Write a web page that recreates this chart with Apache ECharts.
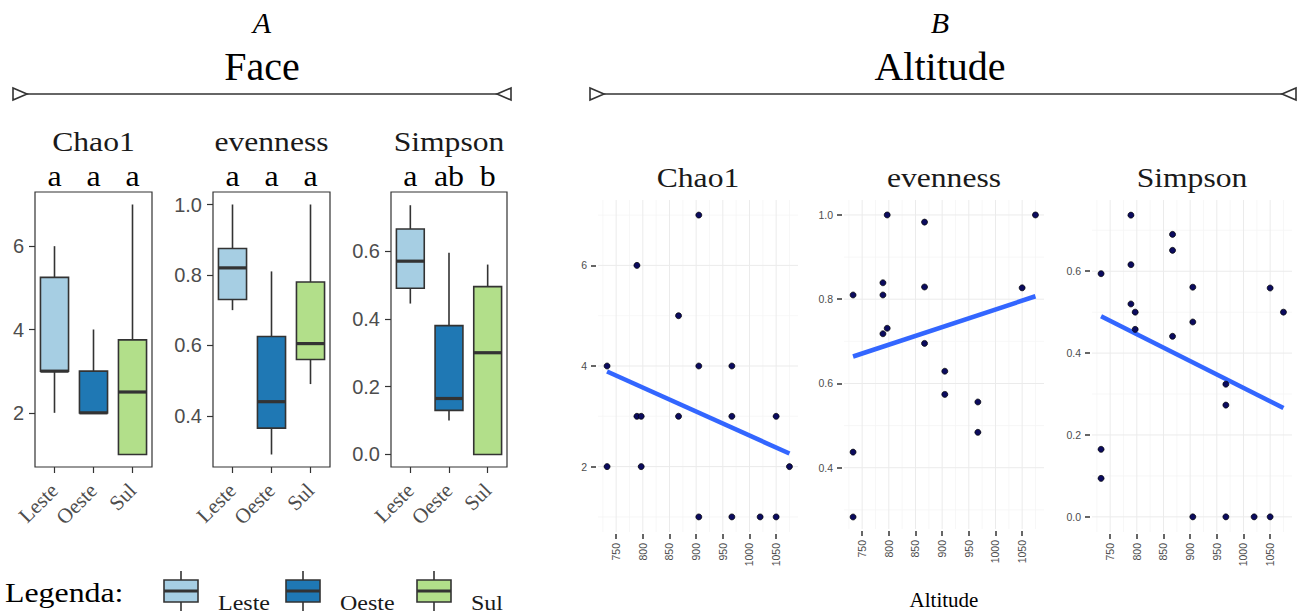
<!DOCTYPE html>
<html><head><meta charset="utf-8">
<script src="https://cdn.jsdelivr.net/npm/echarts@6/dist/echarts.min.js"></script>
<style>html,body{margin:0;padding:0;background:#fff}#c{width:1298px;height:615px}</style>
</head><body><div id="c"></div>
<script>
// ---------- data ----------
const groups = ['Leste', 'Oeste', 'Sul'];
const groupColors = ['#a6cee3', '#1f78b4', '#b2df8a'];
// boxplot stats per group: [min, q1, median, q3, max]
const chao1Box = [[2, 3, 3, 5.25, 6], [2, 2, 2, 3, 4], [1, 1, 2.5, 3.75, 7]];
const evenBox = [[0.70, 0.73, 0.82, 0.875, 1.0], [0.29, 0.365, 0.44, 0.625, 0.81], [0.49, 0.56, 0.605, 0.78, 1.0]];
const simpBox = [[0.445, 0.49, 0.57, 0.665, 0.735], [0.10, 0.13, 0.165, 0.38, 0.595], [0, 0, 0.30, 0.495, 0.56]];
const chao1Letters = ['a', 'a', 'a'];
const evenLetters = ['a', 'a', 'a'];
const simpLetters = ['a', 'ab', 'b'];
const metricNames = ['Chao1', 'evenness', 'Simpson'];
// tick labels
const chao1Ticks = [2, 4, 6];
const evenTicks = [0.4, 0.6, 0.8, 1.0];
const simpTicks = [0.0, 0.2, 0.4, 0.6];
const chao1Minor = [1, 3, 5, 7];
const evenMinor = [0.3, 0.5, 0.7, 0.9];
const simpMinor = [0.1, 0.3, 0.5, 0.7];
const altTicks = [750, 800, 850, 900, 950, 1000, 1050];
const altMinor = [725, 775, 825, 875, 925, 975, 1025, 1075];
// scatter points [altitude, value]
const chao1Pts = [[733, 4], [733, 2], [789, 6], [789, 3], [797, 3], [797, 2], [867, 5], [867, 3], [905, 7], [905, 4], [905, 1], [967, 4], [967, 3], [967, 1], [1020, 1], [1050, 3], [1050, 1], [1075, 2]];
const evenPts = [[733, 0.81], [733, 0.437], [733, 0.283], [789, 0.839], [789, 0.81], [789, 0.718], [797, 1.0], [797, 0.731], [867, 0.983], [867, 0.829], [867, 0.695], [905, 0.629], [905, 0.574], [967, 0.556], [967, 0.484], [1050, 0.827], [1075, 1.0]];
const simpPts = [[733, 0.594], [733, 0.165], [733, 0.094], [789, 0.737], [789, 0.616], [789, 0.52], [797, 0.50], [797, 0.458], [867, 0.69], [867, 0.651], [867, 0.441], [905, 0.561], [905, 0.476], [905, 0], [967, 0.324], [967, 0.273], [967, 0], [1020, 0], [1050, 0.559], [1050, 0], [1075, 0.50]];
// linear fit end points
const chao1Fit = [[733, 3.89], [1075, 2.26]];
const evenFit = [[733, 0.664], [1075, 0.807]];
const simpFit = [[733, 0.49], [1075, 0.266]];
// axis ranges
const chao1Range = [0.7, 7.3];
const evenRange = [0.2545, 1.0355];
const simpRange = [-0.037, 0.774];
const altRange = [716, 1091];

// ---------- styling ----------
const SERIF = 'Liberation Serif, Times New Roman, serif';
const SANS = 'Liberation Sans, Arial, sans-serif';
const gridsA = [{left: 35, top: 192, width: 117, height: 275}, {left: 213, top: 192, width: 117, height: 275}, {left: 391, top: 192, width: 116, height: 275}];
const gridsB = [{left: 598, top: 200, width: 200, height: 332}, {left: 844, top: 200, width: 200, height: 332}, {left: 1092, top: 200, width: 200, height: 332}];

const boxData = [chao1Box, evenBox, simpBox];
const letterData = [chao1Letters, evenLetters, simpLetters];
const tickData = [chao1Ticks, evenTicks, simpTicks];
const minorData = [chao1Minor, evenMinor, simpMinor];
const rangeData = [chao1Range, evenRange, simpRange];
const ptsData = [chao1Pts, evenPts, simpPts];
const fitData = [chao1Fit, evenFit, simpFit];
const fmt = [v => String(v), v => v.toFixed(1), v => v.toFixed(1)];

const grid = [], xAxis = [], yAxis = [], series = [], graphic = [];

for (let k = 0; k < 3; k++) {
  grid.push(Object.assign({show: true, borderColor: '#333', borderWidth: 1.2, backgroundColor: '#fff'}, gridsA[k]));
  xAxis.push({
    type: 'category', gridIndex: k, data: groups, boundaryGap: true, position: 'bottom',
    axisLine: {show: false, onZero: false},
    axisTick: {show: true, alignWithLabel: true, length: 6, lineStyle: {color: '#333', width: 1.2}},
    axisLabel: {rotate: 45, fontFamily: SERIF, fontSize: 21, color: '#4d4d4d', margin: 20},
    splitLine: {show: false}
  });
  yAxis.push({
    type: 'value', gridIndex: k, min: rangeData[k][0], max: rangeData[k][1],
    axisLine: {show: false, onZero: false},
    axisTick: {show: true, customValues: tickData[k], length: 6, lineStyle: {color: '#333', width: 1.2}},
    axisLabel: {customValues: tickData[k], formatter: fmt[k], fontFamily: SANS, fontSize: 20, color: '#4d4d4d', margin: 11},
    splitLine: {show: false}
  });
  const letters = letterData[k];
  series.push({
    type: 'custom', xAxisIndex: k, yAxisIndex: k, clip: false, animation: false,
    data: boxData[k].map((s, i) => [i].concat(s)),
    encode: {x: 0, y: [1, 2, 3, 4, 5]},
    renderItem: function (params, api) {
      const i = params.dataIndex;
      const ci = api.value(0);
      const x = api.coord([ci, api.value(3)])[0];
      const y = d => api.coord([ci, api.value(d)])[1];
      const bw = api.size([1, 0])[0] * 0.72;
      const cs = params.coordSys;
      const children = [
        {type: 'line', shape: {x1: x, y1: y(5), x2: x, y2: y(4)}, style: {stroke: '#333', lineWidth: 1.6}},
        {type: 'rect', shape: {x: x - bw / 2, y: y(4), width: bw, height: y(2) - y(4)}, style: {fill: groupColors[i], stroke: '#333', lineWidth: 1.6}},
        {type: 'line', shape: {x1: x - bw / 2, y1: y(3), x2: x + bw / 2, y2: y(3)}, style: {stroke: '#333', lineWidth: 3.2}},
        {type: 'text', x: x, y: cs.y - 1, scaleX: 1.1, style: {text: letters[i], fontFamily: SERIF, fontSize: 29, fill: '#000', align: 'center', verticalAlign: 'bottom'}}
      ];
      if (y(1) - y(2) > 0.5) {
        children.push({type: 'line', shape: {x1: x, y1: y(2), x2: x, y2: y(1)}, style: {stroke: '#333', lineWidth: 1.6}});
      }
      return {type: 'group', children: children};
    }
  });
  graphic.push({type: 'text', x: gridsA[k].left + gridsA[k].width / 2, y: 141, scaleX: 1.13, style: {text: metricNames[k], fontFamily: SERIF, fontSize: 28, fill: '#1a1a1a', align: 'center', verticalAlign: 'middle'}});
}

for (let k = 0; k < 3; k++) {
  const gi = k + 3;
  grid.push(Object.assign({show: false}, gridsB[k]));
  xAxis.push({
    type: 'value', gridIndex: gi, min: altRange[0], max: altRange[1], offset: 2, position: 'bottom',
    axisLine: {show: false, onZero: false},
    axisTick: {show: true, customValues: altTicks, length: 5, lineStyle: {color: '#333', width: 1.5}},
    axisLabel: {customValues: altTicks, formatter: v => String(v), rotate: 90, fontFamily: SANS, fontSize: 10.5, color: '#4d4d4d', margin: 9},
    splitLine: {show: false},
    name: k === 1 ? 'Altitude' : '', nameLocation: 'middle', nameGap: 58,
    nameTextStyle: {fontFamily: SERIF, fontSize: 21, color: '#000'}
  });
  yAxis.push({
    type: 'value', gridIndex: gi, min: rangeData[k][0], max: rangeData[k][1], offset: 2,
    axisLine: {show: false, onZero: false},
    axisTick: {show: true, customValues: tickData[k], length: 5, lineStyle: {color: '#333', width: 1.5}},
    axisLabel: {customValues: tickData[k], formatter: fmt[k], fontFamily: SANS, fontSize: 10.5, color: '#4d4d4d', margin: 9},
    splitLine: {show: false}
  });
  // background grid lines: [value, isY, isMajor]
  const gl = [].concat(
    altMinor.map(v => [v, 0, 0]), minorData[k].map(v => [v, 1, 0]),
    altTicks.map(v => [v, 0, 1]), tickData[k].map(v => [v, 1, 1]));
  const yr = rangeData[k];
  series.push({
    type: 'custom', xAxisIndex: gi, yAxisIndex: gi, z: 0, silent: true, animation: false,
    data: gl.map(d => [d[1] ? altRange[0] : d[0], d[1] ? d[0] : yr[0], d[1], d[2]]),
    encode: {x: 0, y: 1},
    renderItem: function (params, api) {
      const cs = params.coordSys;
      const isY = api.value(2), major = api.value(3);
      const p = api.coord([api.value(0), api.value(1)]);
      const st = {stroke: major ? '#ebebeb' : '#f5f5f5', lineWidth: major ? 1 : 0.8};
      if (isY) return {type: 'line', shape: {x1: cs.x, y1: p[1], x2: cs.x + cs.width, y2: p[1]}, style: st};
      return {type: 'line', shape: {x1: p[0], y1: cs.y, x2: p[0], y2: cs.y + cs.height}, style: st};
    }
  });
  series.push({
    type: 'line', xAxisIndex: gi, yAxisIndex: gi, data: fitData[k], z: 2,
    showSymbol: false, symbol: 'none', lineStyle: {color: '#3366ff', width: 4.5}, silent: true, animation: false
  });
  series.push({
    type: 'scatter', xAxisIndex: gi, yAxisIndex: gi, data: ptsData[k], z: 3,
    symbolSize: 6, itemStyle: {color: '#0b0b5e', borderColor: '#000', borderWidth: 0.7, opacity: 1}, animation: false
  });
  graphic.push({type: 'text', x: gridsB[k].left + gridsB[k].width / 2, y: 177, scaleX: 1.13, style: {text: metricNames[k], fontFamily: SERIF, fontSize: 28, fill: '#1a1a1a', align: 'center', verticalAlign: 'middle'}});
}

// headers
function header(cx, x0, x1, letter, title) {
  graphic.push({type: 'text', x: cx, y: 22, style: {text: letter, fontFamily: SERIF, fontStyle: 'italic', fontSize: 30, fill: '#000', align: 'center', verticalAlign: 'middle'}});
  graphic.push({type: 'text', x: cx, y: 66, style: {text: title, fontFamily: SERIF, fontSize: 40, fill: '#000', align: 'center', verticalAlign: 'middle'}});
  graphic.push({type: 'line', shape: {x1: x0 + 14, y1: 94, x2: x1 - 14, y2: 94}, style: {stroke: '#333', lineWidth: 1.6}});
  graphic.push({type: 'polygon', shape: {points: [[x0, 88], [x0, 100], [x0 + 14, 94]]}, style: {fill: '#fff', stroke: '#333', lineWidth: 1.6}});
  graphic.push({type: 'polygon', shape: {points: [[x1, 88], [x1, 100], [x1 - 14, 94]]}, style: {fill: '#fff', stroke: '#333', lineWidth: 1.6}});
}
header(262, 13, 511, 'A', 'Face');
header(940, 590, 1296, 'B', 'Altitude');

// legend
graphic.push({type: 'text', x: 5, y: 593, scaleX: 1.18, style: {text: 'Legenda:', fontFamily: SERIF, fontSize: 27, fill: '#000', verticalAlign: 'middle'}});
const legX = [164, 286, 417];
const legTextX = [218, 340, 471];
groups.forEach((g, i) => {
  const x = legX[i], cx = x + 17;
  graphic.push({type: 'line', shape: {x1: cx, y1: 571, x2: cx, y2: 580}, style: {stroke: '#333', lineWidth: 1.6}});
  graphic.push({type: 'line', shape: {x1: cx, y1: 602, x2: cx, y2: 611}, style: {stroke: '#333', lineWidth: 1.6}});
  graphic.push({type: 'rect', shape: {x: x, y: 580, width: 34, height: 22}, style: {fill: groupColors[i], stroke: '#333', lineWidth: 1.6}});
  graphic.push({type: 'line', shape: {x1: x, y1: 591, x2: x + 34, y2: 591}, style: {stroke: '#333', lineWidth: 3}});
  graphic.push({type: 'text', x: legTextX[i], y: 603, scaleX: 1.2, style: {text: g, fontFamily: SERIF, fontSize: 20, fill: '#1a1a1a', verticalAlign: 'middle'}});
});

const chart = echarts.init(document.getElementById('c'), null, {renderer: 'svg'});
chart.setOption({animation: false, backgroundColor: '#fff', grid, xAxis, yAxis, series, graphic});
</script>
</body></html>
